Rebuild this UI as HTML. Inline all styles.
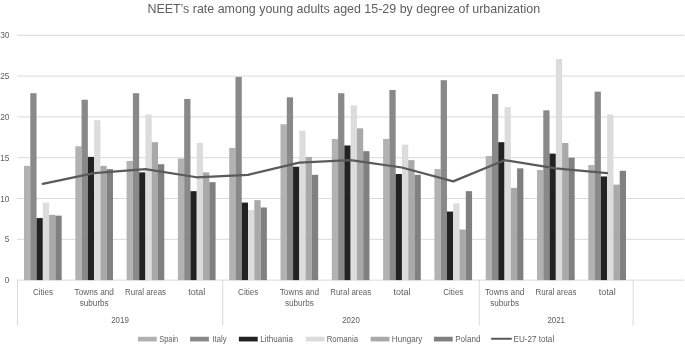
<!DOCTYPE html><html><head><meta charset="utf-8"><style>html,body{margin:0;padding:0;background:#fff}svg{display:block;will-change:transform}text{font-family:"Liberation Sans",sans-serif;fill:#606060}</style></head><body>
<svg width="685" height="344" viewBox="0 0 685 344">
<rect width="685" height="344" fill="#fff"/>
<line x1="17.14" y1="280.10" x2="684.3" y2="280.10" stroke="#d9d9d9" stroke-width="1"/>
<line x1="17.14" y1="239.30" x2="684.3" y2="239.30" stroke="#d9d9d9" stroke-width="1"/>
<line x1="17.14" y1="198.50" x2="684.3" y2="198.50" stroke="#d9d9d9" stroke-width="1"/>
<line x1="17.14" y1="157.70" x2="684.3" y2="157.70" stroke="#d9d9d9" stroke-width="1"/>
<line x1="17.14" y1="116.90" x2="684.3" y2="116.90" stroke="#d9d9d9" stroke-width="1"/>
<line x1="17.14" y1="76.10" x2="684.3" y2="76.10" stroke="#d9d9d9" stroke-width="1"/>
<line x1="17.14" y1="35.30" x2="684.3" y2="35.30" stroke="#d9d9d9" stroke-width="1"/>
<rect x="24.00" y="165.86" width="6.28" height="114.24" fill="#b2b2b2"/>
<rect x="75.30" y="146.28" width="6.28" height="133.82" fill="#b2b2b2"/>
<rect x="126.60" y="160.96" width="6.28" height="119.14" fill="#b2b2b2"/>
<rect x="177.90" y="158.52" width="6.28" height="121.58" fill="#b2b2b2"/>
<rect x="229.20" y="147.91" width="6.28" height="132.19" fill="#b2b2b2"/>
<rect x="280.50" y="124.24" width="6.28" height="155.86" fill="#b2b2b2"/>
<rect x="331.80" y="138.93" width="6.28" height="141.17" fill="#b2b2b2"/>
<rect x="383.10" y="138.93" width="6.28" height="141.17" fill="#b2b2b2"/>
<rect x="434.40" y="169.12" width="6.28" height="110.98" fill="#b2b2b2"/>
<rect x="485.70" y="156.07" width="6.28" height="124.03" fill="#b2b2b2"/>
<rect x="537.00" y="169.94" width="6.28" height="110.16" fill="#b2b2b2"/>
<rect x="588.30" y="165.04" width="6.28" height="115.06" fill="#b2b2b2"/>
<rect x="30.28" y="93.24" width="6.28" height="186.86" fill="#898989"/>
<rect x="81.58" y="99.76" width="6.28" height="180.34" fill="#898989"/>
<rect x="132.88" y="93.24" width="6.28" height="186.86" fill="#898989"/>
<rect x="184.18" y="98.95" width="6.28" height="181.15" fill="#898989"/>
<rect x="235.48" y="76.92" width="6.28" height="203.18" fill="#898989"/>
<rect x="286.78" y="97.32" width="6.28" height="182.78" fill="#898989"/>
<rect x="338.08" y="93.24" width="6.28" height="186.86" fill="#898989"/>
<rect x="389.38" y="89.97" width="6.28" height="190.13" fill="#898989"/>
<rect x="440.68" y="80.18" width="6.28" height="199.92" fill="#898989"/>
<rect x="491.98" y="94.05" width="6.28" height="186.05" fill="#898989"/>
<rect x="543.28" y="110.37" width="6.28" height="169.73" fill="#898989"/>
<rect x="594.58" y="91.60" width="6.28" height="188.50" fill="#898989"/>
<rect x="36.56" y="218.08" width="6.28" height="62.02" fill="#222222"/>
<rect x="87.86" y="156.88" width="6.28" height="123.22" fill="#222222"/>
<rect x="139.16" y="172.39" width="6.28" height="107.71" fill="#222222"/>
<rect x="190.46" y="191.16" width="6.28" height="88.94" fill="#222222"/>
<rect x="241.76" y="202.58" width="6.28" height="77.52" fill="#222222"/>
<rect x="293.06" y="166.68" width="6.28" height="113.42" fill="#222222"/>
<rect x="344.36" y="145.46" width="6.28" height="134.64" fill="#222222"/>
<rect x="395.66" y="174.02" width="6.28" height="106.08" fill="#222222"/>
<rect x="446.96" y="211.56" width="6.28" height="68.54" fill="#222222"/>
<rect x="498.26" y="142.20" width="6.28" height="137.90" fill="#222222"/>
<rect x="549.56" y="153.62" width="6.28" height="126.48" fill="#222222"/>
<rect x="600.86" y="176.47" width="6.28" height="103.63" fill="#222222"/>
<rect x="42.84" y="202.58" width="6.28" height="77.52" fill="#dcdcdc"/>
<rect x="94.14" y="120.16" width="6.28" height="159.94" fill="#dcdcdc"/>
<rect x="145.44" y="114.45" width="6.28" height="165.65" fill="#dcdcdc"/>
<rect x="196.74" y="143.01" width="6.28" height="137.09" fill="#dcdcdc"/>
<rect x="248.04" y="209.92" width="6.28" height="70.18" fill="#dcdcdc"/>
<rect x="299.34" y="130.77" width="6.28" height="149.33" fill="#dcdcdc"/>
<rect x="350.64" y="105.48" width="6.28" height="174.62" fill="#dcdcdc"/>
<rect x="401.94" y="144.64" width="6.28" height="135.46" fill="#dcdcdc"/>
<rect x="453.24" y="203.40" width="6.28" height="76.70" fill="#dcdcdc"/>
<rect x="504.54" y="107.11" width="6.28" height="172.99" fill="#dcdcdc"/>
<rect x="555.84" y="58.96" width="6.28" height="221.14" fill="#dcdcdc"/>
<rect x="607.14" y="114.45" width="6.28" height="165.65" fill="#dcdcdc"/>
<rect x="49.12" y="214.82" width="6.28" height="65.28" fill="#a9a9a9"/>
<rect x="100.42" y="165.86" width="6.28" height="114.24" fill="#a9a9a9"/>
<rect x="151.72" y="142.20" width="6.28" height="137.90" fill="#a9a9a9"/>
<rect x="203.02" y="172.39" width="6.28" height="107.71" fill="#a9a9a9"/>
<rect x="254.32" y="200.13" width="6.28" height="79.97" fill="#a9a9a9"/>
<rect x="305.62" y="156.88" width="6.28" height="123.22" fill="#a9a9a9"/>
<rect x="356.92" y="128.32" width="6.28" height="151.78" fill="#a9a9a9"/>
<rect x="408.22" y="160.15" width="6.28" height="119.95" fill="#a9a9a9"/>
<rect x="459.52" y="229.51" width="6.28" height="50.59" fill="#a9a9a9"/>
<rect x="510.82" y="187.89" width="6.28" height="92.21" fill="#a9a9a9"/>
<rect x="562.12" y="143.01" width="6.28" height="137.09" fill="#a9a9a9"/>
<rect x="613.42" y="184.63" width="6.28" height="95.47" fill="#a9a9a9"/>
<rect x="55.40" y="215.64" width="6.28" height="64.46" fill="#808080"/>
<rect x="106.70" y="169.12" width="6.28" height="110.98" fill="#808080"/>
<rect x="158.00" y="164.23" width="6.28" height="115.87" fill="#808080"/>
<rect x="209.30" y="182.18" width="6.28" height="97.92" fill="#808080"/>
<rect x="260.60" y="207.48" width="6.28" height="72.62" fill="#808080"/>
<rect x="311.90" y="174.84" width="6.28" height="105.26" fill="#808080"/>
<rect x="363.20" y="151.17" width="6.28" height="128.93" fill="#808080"/>
<rect x="414.50" y="174.84" width="6.28" height="105.26" fill="#808080"/>
<rect x="465.80" y="191.16" width="6.28" height="88.94" fill="#808080"/>
<rect x="517.10" y="168.31" width="6.28" height="111.79" fill="#808080"/>
<rect x="568.40" y="157.70" width="6.28" height="122.40" fill="#808080"/>
<rect x="619.70" y="170.76" width="6.28" height="109.34" fill="#808080"/>
<polyline points="42.79,183.81 94.09,173.20 145.39,169.12 196.69,177.28 247.99,174.84 299.29,162.60 350.59,160.15 401.89,167.49 453.19,181.36 504.49,160.15 555.79,168.31 607.09,173.20" fill="none" stroke="#5a5a5a" stroke-width="2.2" stroke-linejoin="round" stroke-linecap="round"/>
<line x1="17.54" y1="280.10" x2="17.54" y2="325.3" stroke="#d9d9d9" stroke-width="1"/>
<line x1="222.74" y1="280.10" x2="222.74" y2="325.3" stroke="#d9d9d9" stroke-width="1"/>
<line x1="479.24" y1="280.10" x2="479.24" y2="325.3" stroke="#d9d9d9" stroke-width="1"/>
<line x1="633.14" y1="280.10" x2="633.14" y2="325.3" stroke="#d9d9d9" stroke-width="1"/>
<text x="9.4" y="283.10" font-size="8.3" text-anchor="end" textLength="4.6" lengthAdjust="spacingAndGlyphs">0</text>
<text x="9.4" y="242.30" font-size="8.3" text-anchor="end" textLength="4.6" lengthAdjust="spacingAndGlyphs">5</text>
<text x="9.4" y="201.50" font-size="8.3" text-anchor="end" textLength="9.2" lengthAdjust="spacingAndGlyphs">10</text>
<text x="9.4" y="160.70" font-size="8.3" text-anchor="end" textLength="9.2" lengthAdjust="spacingAndGlyphs">15</text>
<text x="9.4" y="119.90" font-size="8.3" text-anchor="end" textLength="9.2" lengthAdjust="spacingAndGlyphs">20</text>
<text x="9.4" y="79.10" font-size="8.3" text-anchor="end" textLength="9.2" lengthAdjust="spacingAndGlyphs">25</text>
<text x="9.4" y="38.30" font-size="8.3" text-anchor="end" textLength="9.2" lengthAdjust="spacingAndGlyphs">30</text>
<text x="42.94" y="294.60" font-size="8.3" text-anchor="middle" textLength="20.1" lengthAdjust="spacingAndGlyphs">Cities</text>
<text x="94.24" y="294.60" font-size="8.3" text-anchor="middle" textLength="39.4" lengthAdjust="spacingAndGlyphs">Towns and</text>
<text x="94.24" y="305.70" font-size="8.3" text-anchor="middle" textLength="28.9" lengthAdjust="spacingAndGlyphs">suburbs</text>
<text x="145.54" y="294.60" font-size="8.3" text-anchor="middle" textLength="41.0" lengthAdjust="spacingAndGlyphs">Rural areas</text>
<text x="196.84" y="294.60" font-size="8.3" text-anchor="middle" textLength="17.0" lengthAdjust="spacingAndGlyphs">total</text>
<text x="248.14" y="294.60" font-size="8.3" text-anchor="middle" textLength="20.1" lengthAdjust="spacingAndGlyphs">Cities</text>
<text x="299.44" y="294.60" font-size="8.3" text-anchor="middle" textLength="39.4" lengthAdjust="spacingAndGlyphs">Towns and</text>
<text x="299.44" y="305.70" font-size="8.3" text-anchor="middle" textLength="28.9" lengthAdjust="spacingAndGlyphs">suburbs</text>
<text x="350.74" y="294.60" font-size="8.3" text-anchor="middle" textLength="41.0" lengthAdjust="spacingAndGlyphs">Rural areas</text>
<text x="402.04" y="294.60" font-size="8.3" text-anchor="middle" textLength="17.0" lengthAdjust="spacingAndGlyphs">total</text>
<text x="453.34" y="294.60" font-size="8.3" text-anchor="middle" textLength="20.1" lengthAdjust="spacingAndGlyphs">Cities</text>
<text x="504.64" y="294.60" font-size="8.3" text-anchor="middle" textLength="39.4" lengthAdjust="spacingAndGlyphs">Towns and</text>
<text x="504.64" y="305.70" font-size="8.3" text-anchor="middle" textLength="28.9" lengthAdjust="spacingAndGlyphs">suburbs</text>
<text x="555.94" y="294.60" font-size="8.3" text-anchor="middle" textLength="41.0" lengthAdjust="spacingAndGlyphs">Rural areas</text>
<text x="607.24" y="294.60" font-size="8.3" text-anchor="middle" textLength="17.0" lengthAdjust="spacingAndGlyphs">total</text>
<text x="120.0" y="323.3" font-size="8.3" text-anchor="middle" textLength="17.6" lengthAdjust="spacingAndGlyphs">2019</text>
<text x="351.0" y="323.3" font-size="8.3" text-anchor="middle" textLength="17.6" lengthAdjust="spacingAndGlyphs">2020</text>
<text x="556.2" y="323.3" font-size="8.3" text-anchor="middle" textLength="17.6" lengthAdjust="spacingAndGlyphs">2021</text>
<text x="147.4" y="12.7" font-size="12.2" textLength="392.7" lengthAdjust="spacingAndGlyphs">NEET’s rate among young adults aged 15-29 by degree of urbanization</text>
<rect x="138.0" y="336.75" width="18.8" height="4.7" fill="#b2b2b2"/>
<text x="159.2" y="341.9" font-size="8.3" textLength="19.0" lengthAdjust="spacingAndGlyphs">Spain</text>
<rect x="190.1" y="336.75" width="18.8" height="4.7" fill="#898989"/>
<text x="212.5" y="341.9" font-size="8.3" textLength="14.0" lengthAdjust="spacingAndGlyphs">Italy</text>
<rect x="238.9" y="336.75" width="18.8" height="4.7" fill="#222222"/>
<text x="260.2" y="341.9" font-size="8.3" textLength="32.7" lengthAdjust="spacingAndGlyphs">Lithuania</text>
<rect x="305.8" y="336.75" width="18.8" height="4.7" fill="#dcdcdc"/>
<text x="326.7" y="341.9" font-size="8.3" textLength="31.4" lengthAdjust="spacingAndGlyphs">Romania</text>
<rect x="370.7" y="336.75" width="18.8" height="4.7" fill="#a9a9a9"/>
<text x="391.8" y="341.9" font-size="8.3" textLength="30.6" lengthAdjust="spacingAndGlyphs">Hungary</text>
<rect x="433.9" y="336.75" width="18.8" height="4.7" fill="#808080"/>
<text x="455.2" y="341.9" font-size="8.3" textLength="25.2" lengthAdjust="spacingAndGlyphs">Poland</text>
<line x1="491.8" y1="338.7" x2="511" y2="338.7" stroke="#5a5a5a" stroke-width="2" stroke-linecap="round"/>
<text x="513.6" y="341.9" font-size="8.3" textLength="40.6" lengthAdjust="spacingAndGlyphs">EU-27 total</text>
</svg></body></html>
